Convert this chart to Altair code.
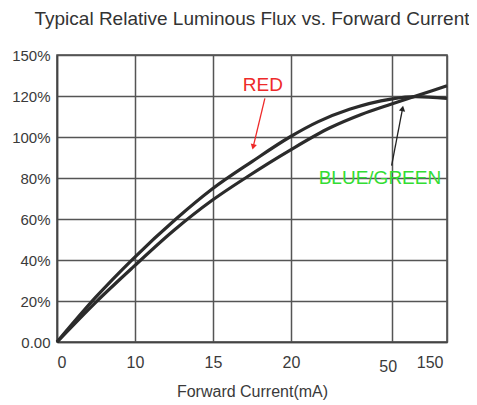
import altair as alt
import pandas as pd

# ---- axes ----
x_tick_pos = [0, 20, 40, 60, 85.8, 100]
x_tick_labels = ["0", "10", "15", "20", "50", "150"]
y_tick_vals = [0, 20, 40, 60, 80, 100, 120, 140]
y_tick_labels = ["0.00", "20%", "40%", "60%", "80%", "100%", "120%", "150%"]

# ---- curves (x in plot units, 100 = 150 mA gridline; y in %) ----
red_x = [0, 10, 19.5, 30.5, 39.7, 50, 59.7, 67, 75, 85.6, 92, 100]
red_y = [0, 22, 40.6, 60, 74.5, 88, 100, 107.5, 113.5, 118.5, 119.7, 118.8]
blue_x = [0, 10, 19.5, 30, 39.7, 48.7, 59.7, 70, 78, 85.6, 92, 100]
blue_y = [0, 19.5, 36.5, 54.5, 69, 80.5, 93.5, 104.5, 111, 116, 120, 125]

# ---- annotations ----
ann_text = ["RED", "BLUE/GREEN"]
ann_x = [52.8, 82.8]
ann_y = [125.2, 80]
ann_color = ["#ee2a2a", "#33dd33"]

arrow_x = [53.3, 85.8]
arrow_y = [118.8, 86]
arrow_x2 = [50.3, 88.6]
arrow_y2 = [95.2, 113.9]
arrow_color = ["#ee2a2a", "#222222"]
arrow_angle = [194, 11]

curves = pd.DataFrame(
    {"x": red_x + blue_x, "y": red_y + blue_y,
     "series": ["RED"] * len(red_x) + ["BLUE/GREEN"] * len(blue_x)}
)
ann = pd.DataFrame({"text": ann_text, "x": ann_x, "y": ann_y, "color": ann_color})
arrows = pd.DataFrame({"x": arrow_x, "y": arrow_y, "x2": arrow_x2, "y2": arrow_y2,
                       "color": arrow_color, "angle": arrow_angle})


def label_expr(vals, labels):
    parts = [f"datum.value == {v} ? '{l}'" for v, l in zip(vals, labels)]
    return " : ".join(parts) + " : ''"


FONT = "Liberation Sans"
xscale = alt.Scale(domain=[0, 100], nice=False, zero=False)
yscale = alt.Scale(domain=[0, 140], nice=False)

xaxis = alt.Axis(
    values=x_tick_pos, labelExpr=label_expr(x_tick_pos, x_tick_labels),
    title="Forward Current(mA)", grid=True, ticks=False, labelFontSize=16,
    labelPadding={"condition": {"test": "datum.value > 80 && datum.value < 90", "value": 16}, "value": 12},
    labelOffset={"condition": {"test": "datum.value > 80", "value": -4}, "value": 0},
    titlePadding=9, titleFontSize=16,
)
yaxis = alt.Axis(
    values=y_tick_vals, labelExpr=label_expr(y_tick_vals, y_tick_labels),
    title=None, grid=True, ticks=False, labelPadding=7,
)

lines = alt.Chart(curves).mark_line(
    interpolate="monotone", color="#2b2b2b", strokeWidth=3.2
).encode(
    x=alt.X("x:Q", scale=xscale, axis=xaxis),
    y=alt.Y("y:Q", scale=yscale, axis=yaxis),
    detail="series:N",
)

rules = alt.Chart(arrows).mark_rule(strokeWidth=1.3).encode(
    x="x:Q", y="y:Q", x2="x2:Q", y2="y2:Q",
    color=alt.Color("color:N", scale=None),
)

heads = alt.Chart(arrows).mark_point(shape="triangle-up", filled=True, size=40, opacity=1).encode(
    x="x2:Q", y="y2:Q",
    color=alt.Color("color:N", scale=None),
    angle=alt.Angle("angle:Q", scale=None),
)

texts = alt.Chart(ann).mark_text(font=FONT, fontSize=19).encode(
    x="x:Q", y="y:Q", text="text:N",
    color=alt.Color("color:N", scale=None),
)

chart = alt.layer(lines, rules, heads, texts).properties(
    width=390, height=287,
    title=alt.TitleParams(
        "Typical Relative Luminous Flux vs. Forward Current",
        font=FONT, fontSize=19, fontWeight="normal", color="#333333",
        anchor="middle", offset=19,
    ),
    autosize=alt.AutoSizeParams(type="none"),
    padding={"left": 49, "top": 47, "right": 22, "bottom": 62},
).configure_view(
    stroke="#444444", strokeWidth=1.5,
).configure_axis(
    labelFont=FONT, labelFontSize=15, labelColor="#3a3a3a",
    titleFont=FONT, titleFontSize=15, titleFontWeight="normal", titleColor="#3a3a3a",
    gridColor="#555555", gridWidth=1.5, gridOpacity=1,
    domainColor="#444444", domainWidth=1.5,
)

chart.save("out.html", embed_options={"renderer": "svg", "actions": False})
